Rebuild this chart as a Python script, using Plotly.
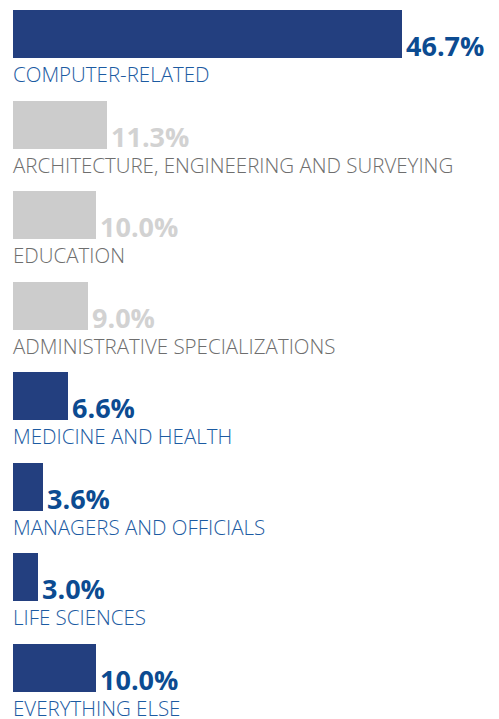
import plotly.graph_objects as go

categories = [
    "COMPUTER-RELATED",
    "ARCHITECTURE, ENGINEERING AND SURVEYING",
    "EDUCATION",
    "ADMINISTRATIVE SPECIALIZATIONS",
    "MEDICINE AND HEALTH",
    "MANAGERS AND OFFICIALS",
    "LIFE SCIENCES",
    "EVERYTHING ELSE",
]
shares = [46.7, 11.3, 10.0, 9.0, 6.6, 3.6, 3.0, 10.0]
highlighted = [True, False, False, False, True, True, True, True]

BAR_BLUE = "#233f7f"
VALUE_BLUE = "#0c4b91"
LABEL_BLUE = "#1c5ba2"
BAR_GREY = "#cccccc"
VALUE_GREY = "#d2d2d2"
LABEL_GREY = "#6e6e6e"
BAR_WIDTH = 0.53

positions = list(range(len(categories)))
bar_colors = [BAR_BLUE if h else BAR_GREY for h in highlighted]

fig = go.Figure(
    go.Bar(
        x=shares,
        y=positions,
        orientation="h",
        width=BAR_WIDTH,
        marker={"color": bar_colors, "line": {"width": 0}},
        hoverinfo="skip",
    )
)

for pos, name, value, hi in zip(positions, categories, shares, highlighted):
    bottom = pos + BAR_WIDTH / 2
    # percentage sits on the bar's baseline, just right of its end
    fig.add_annotation(
        x=value,
        y=bottom,
        xref="x",
        yref="y",
        text=f"<b>{value:.1f}%</b>",
        showarrow=False,
        xanchor="left",
        yanchor="bottom",
        xshift=2,
        yshift=-8,
        font={"family": "Open Sans", "size": 27, "color": VALUE_BLUE if hi else VALUE_GREY},
    )
    # category name under the bar
    fig.add_annotation(
        x=0,
        y=bottom,
        xref="x",
        yref="y",
        text=name,
        showarrow=False,
        xanchor="left",
        yanchor="top",
        xshift=-2,
        yshift=0,
        font={"family": "Open Sans", "size": 20.5, "weight": 300,
              "color": LABEL_BLUE if hi else LABEL_GREY},
    )

# the page body adds an 8px margin, so the figure is 8px smaller than the window
fig.update_layout(
    width=491,
    height=711,
    margin={"l": 5, "r": 0, "t": 0, "b": 0},
    paper_bgcolor="white",
    plot_bgcolor="white",
    showlegend=False,
    bargap=0,
)
fig.update_xaxes(range=[0, 58.35], visible=False, fixedrange=True)
fig.update_yaxes(range=[7.563, -0.287], visible=False, fixedrange=True)

fig.write_html("out.html", config={"displayModeBar": False})
